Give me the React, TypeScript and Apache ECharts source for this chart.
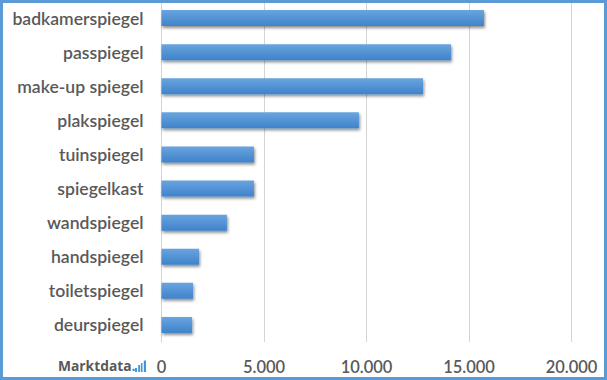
import React, { useEffect, useRef } from "react";
import * as echarts from "echarts";

const categories = ["badkamerspiegel", "passpiegel", "make-up spiegel", "plakspiegel", "tuinspiegel", "spiegelkast", "wandspiegel", "handspiegel", "toiletspiegel", "deurspiegel"];
const values = [15730, 14120, 12760, 9630, 4510, 4510, 3190, 1830, 1540, 1490];
const logoBars = [[135, 368, 2, 4], [138.2, 365, 2, 7], [141, 363, 1.5, 9], [143.8, 360.5, 2.2, 11.5]];

export default function App() {
  const ref = useRef<HTMLDivElement>(null);
  useEffect(() => {
    document.body.style.margin = "0";
    const chart = echarts.init(ref.current!, null, { renderer: "svg" });
    chart.setOption({
      animation: false,
      backgroundColor: "#ffffff",
      grid: { left: 161.5, width: 410, top: 1, height: 341, containLabel: false },
      xAxis: {
        type: "value", min: 0, max: 20000, interval: 5000,
        axisLine: { show: false }, axisTick: { show: false },
        splitLine: { show: true, lineStyle: { color: "#d4d4d4", width: 1 } },
        axisLabel: {
          color: "#595959", fontFamily: "Lato", fontWeight: 600, fontSize: 16.5, margin: 16,
          formatter: (v: number) => v === 0 ? "0" : (v / 1000).toFixed(3),
        },
      },
      yAxis: {
        type: "category", inverse: true, data: categories,
        axisLine: { show: true, lineStyle: { color: "#d4d4d4", width: 1 } },
        axisTick: { show: false },
        axisLabel: { color: "#595959", fontFamily: "Lato", fontWeight: 600, fontSize: 17.6, margin: 18, padding: [0, 0, 2, 0] },
      },
      series: [{
        type: "bar", data: values, barWidth: 16,
        itemStyle: {
          color: new echarts.graphic.LinearGradient(0, 0, 0, 1, [
            { offset: 0, color: "#69a4de" }, { offset: 1, color: "#3f83cb" },
          ]),
          shadowColor: "rgba(0,0,0,0.45)", shadowBlur: 3, shadowOffsetX: 1, shadowOffsetY: 2,
        },
      }],
      graphic: [
        { type: "rect", shape: { x: 1.5, y: 1.5, width: 604, height: 377 }, style: { fill: "none", stroke: "#5b9bd5", lineWidth: 3 }, z: 10 },
        {
          type: "text", x: 58, y: 358, z: 10,
          style: {
            text: "{a|Marktdata}{b|.}",
            rich: {
              a: { fill: "#595959", font: "bold 13.8px 'Open Sans'" },
              b: { fill: "#2e8bd6", font: "bold 13.8px 'Open Sans'" },
            },
          },
        },
        ...logoBars.map(([x, y, width, height]) => ({ type: "rect", shape: { x, y, width, height }, style: { fill: "#3a9ad9" }, z: 10 })),
      ],
    });
    return () => chart.dispose();
  }, []);
  return <div ref={ref} style={{ width: 607, height: 380 }} />;
}
